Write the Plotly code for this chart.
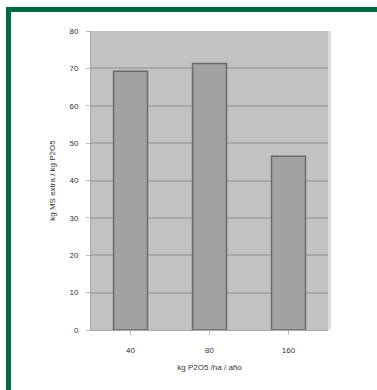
import plotly.graph_objects as go

categories = ["40", "80", "160"]
values = [69.2, 71.3, 46.5]
y_ticks = [0, 10, 20, 30, 40, 50, 60, 70, 80]

W, H = 377, 390
ml, mr, mt, mb = 91, 49, 31, 60
pw, ph = W - ml - mr, H - mt - mb

def px_x(x):
    return (x - ml) / pw

def px_y(y):
    return (H - mb - y) / ph

fig = go.Figure()
fig.add_trace(go.Bar(
    x=categories, y=values, width=0.43,
    marker=dict(color="#a2a2a2", line=dict(color="#6a6a6a", width=1.5)),
))

green = "#006a40"
fig.add_shape(type="rect", xref="paper", yref="paper",
              x0=px_x(6), x1=px_x(377), y0=px_y(7), y1=px_y(12),
              fillcolor=green, line=dict(width=0), layer="above")
fig.add_shape(type="rect", xref="paper", yref="paper",
              x0=px_x(6), x1=px_x(11), y0=px_y(7), y1=px_y(390),
              fillcolor=green, line=dict(width=0), layer="above")
# light frame at the right edge of the plot area
fig.add_shape(type="rect", xref="paper", yref="paper",
              x0=1.0, x1=px_x(ml + pw + 3), y0=0, y1=1,
              fillcolor="#dcdcdc", line=dict(width=0), layer="below")

font = dict(family="Liberation Sans, Arial, sans-serif", size=8, color="#333333")
fig.update_layout(
    width=W, height=H,
    margin=dict(l=ml, r=mr, t=mt, b=mb),
    paper_bgcolor="white", plot_bgcolor="#c2c2c2",
    showlegend=False, font=font,
    xaxis=dict(title=dict(text="kg P2O5 /ha / año", font=font, standoff=10),
               showgrid=False, ticks="outside", ticklen=4, tickcolor="#bbbbbb",
               ticklabelstandoff=8,
               linecolor="#aaaaaa", showline=True),
    yaxis=dict(title=dict(text="kg MS extra / kg P2O5", font=font, standoff=12),
               range=[0, 80], tickvals=y_ticks, gridcolor="#a9a9a9", gridwidth=1.5,
               zeroline=False, ticks="outside", ticklen=4, tickcolor="#bbbbbb",
               ticklabelstandoff=6,
               showline=True, linecolor="#aaaaaa"),
)

fig.write_html("out.html", config={"displayModeBar": False},
               post_script="document.body.style.margin='0';document.body.style.overflow='hidden';")
